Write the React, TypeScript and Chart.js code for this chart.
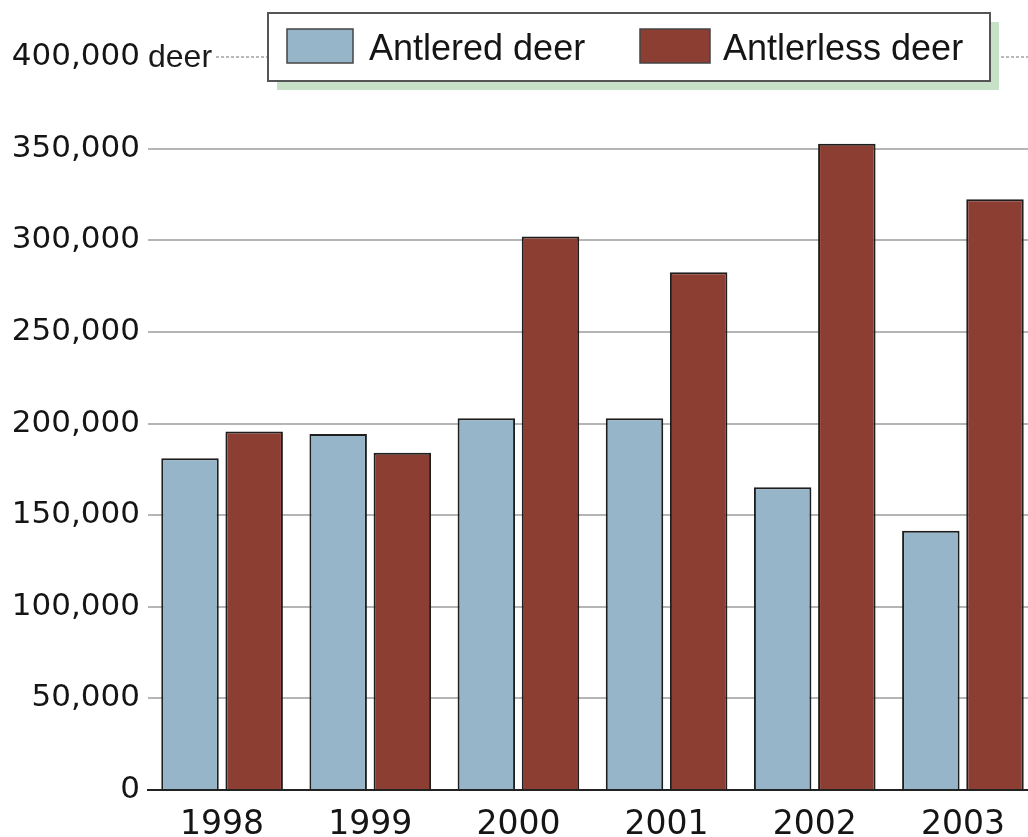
import React, { useEffect, useRef } from 'react';
import { Chart, registerables } from 'chart.js';

Chart.register(...registerables);

const years = ['1998', '1999', '2000', '2001', '2002', '2003'];
const antlered = [181000, 194300, 202900, 202900, 165200, 141500];
const antlerless = [195600, 184100, 302000, 282600, 352600, 322400];
const seriesLabels = ['Antlered deer', 'Antlerless deer'];
const seriesColors = ['#96b5c9', '#8c3e33'];
const yMin = 0;
const yMax = 400000;
const yStep = 50000;
const unitLabel = 'deer';

const overlayPlugin = {
  id: 'overlay',
  beforeDatasetsDraw(chart: any) {
    const ctx = chart.ctx;
    const ys = chart.scales.y;
    const py = ys.getPixelForValue(yMax);
    const left = chart.chartArea.left;
    ctx.save();
    ctx.font = '32px "Liberation Sans", Arial, sans-serif';
    ctx.fillStyle = '#1a1a1a';
    ctx.textBaseline = 'middle';
    ctx.textAlign = 'left';
    ctx.fillText(unitLabel, left, py + 1);
    const w = ctx.measureText(unitLabel).width;
    ctx.strokeStyle = '#b8b8b8';
    ctx.lineWidth = 2;
    ctx.setLineDash([3, 2]);
    ctx.beginPath();
    ctx.moveTo(left + w + 4, py);
    ctx.lineTo(chart.chartArea.right, py);
    ctx.stroke();
    ctx.restore();
  },
  afterDraw(chart: any) {
    const ctx = chart.ctx;
    const bx = 268, by = 13, bw = 722, bh = 68;
    ctx.save();
    ctx.fillStyle = '#c7e0c8';
    ctx.fillRect(bx + 9, by + 9, bw, bh);
    ctx.fillStyle = '#ffffff';
    ctx.fillRect(bx, by, bw, bh);
    ctx.strokeStyle = '#555';
    ctx.lineWidth = 2;
    ctx.strokeRect(bx, by, bw, bh);
    const items = [
      { sx: 287, sw: 66, tx: 369 },
      { sx: 640, sw: 70, tx: 723 },
    ];
    chart.data.datasets.forEach((ds: any, i: number) => {
      const it = items[i];
      ctx.fillStyle = ds.backgroundColor;
      ctx.fillRect(it.sx, 29, it.sw, 34);
      ctx.strokeStyle = '#444';
      ctx.lineWidth = 1.5;
      ctx.strokeRect(it.sx, 29, it.sw, 34);
      ctx.fillStyle = '#151515';
      ctx.font = '36px "Liberation Sans", Arial, sans-serif';
      ctx.textBaseline = 'alphabetic';
      ctx.textAlign = 'left';
      ctx.fillText(ds.label, it.tx, 60);
    });
    ctx.restore();
  },
};

export default function App() {
  const ref = useRef<HTMLCanvasElement | null>(null);

  useEffect(() => {
    if (!ref.current) return;
    const chart = new Chart(ref.current, {
      type: 'bar',
      data: {
        labels: years,
        datasets: [
          {
            label: seriesLabels[0],
            data: antlered,
            backgroundColor: seriesColors[0],
            borderColor: '#1e1e1e',
            borderWidth: 2,
          },
          {
            label: seriesLabels[1],
            data: antlerless,
            backgroundColor: seriesColors[1],
            borderColor: '#1e1e1e',
            borderWidth: 2,
          },
        ],
      },
      options: {
        animation: false,
        responsive: false,
        devicePixelRatio: 1,
        layout: { padding: { top: 57, right: 3, bottom: 0, left: 0 } },
        datasets: {
          bar: { categoryPercentage: 0.866, barPercentage: 0.896 },
        },
        plugins: {
          legend: { display: false },
          tooltip: { enabled: false },
        },
        scales: {
          x: {
            grid: { display: true, color: 'rgba(0,0,0,0)', drawTicks: false },
            border: { display: true, color: '#222', width: 2 },
            ticks: {
              color: '#151515',
              font: { family: '"DejaVu Sans", Verdana, sans-serif', size: 33 },
              padding: 16,
              maxRotation: 0,
            },
            afterFit(scale: any) {
              scale.height = 47;
              scale.paddingLeft = 0;
              scale.paddingRight = 0;
            },
          },
          y: {
            min: yMin,
            max: yMax,
            grid: {
              color: (c: any) =>
                c.tick && (c.tick.value === yMin || c.tick.value === yMax)
                  ? 'rgba(0,0,0,0)'
                  : '#b5b5b5',
              lineWidth: 2,
              drawTicks: false,
            },
            border: { display: false },
            ticks: {
              stepSize: yStep,
              color: '#151515',
              padding: 8,
              font: { family: '"DejaVu Sans", Verdana, sans-serif', size: 31 },
              callback: (v: any) => Number(v).toLocaleString('en-US'),
            },
            afterFit(scale: any) {
              scale.width = 148;
              scale.paddingTop = 0;
              scale.paddingBottom = 0;
            },
          },
        },
      },
      plugins: [overlayPlugin],
    });
    return () => chart.destroy();
  }, []);

  return (
    <div
      style={{
        position: 'fixed',
        left: 0,
        top: 0,
        width: 1028,
        height: 837,
        overflow: 'hidden',
        background: '#fff',
      }}
    >
      <canvas ref={ref} width={1040} height={837} style={{ display: 'block' }} />
    </div>
  );
}
